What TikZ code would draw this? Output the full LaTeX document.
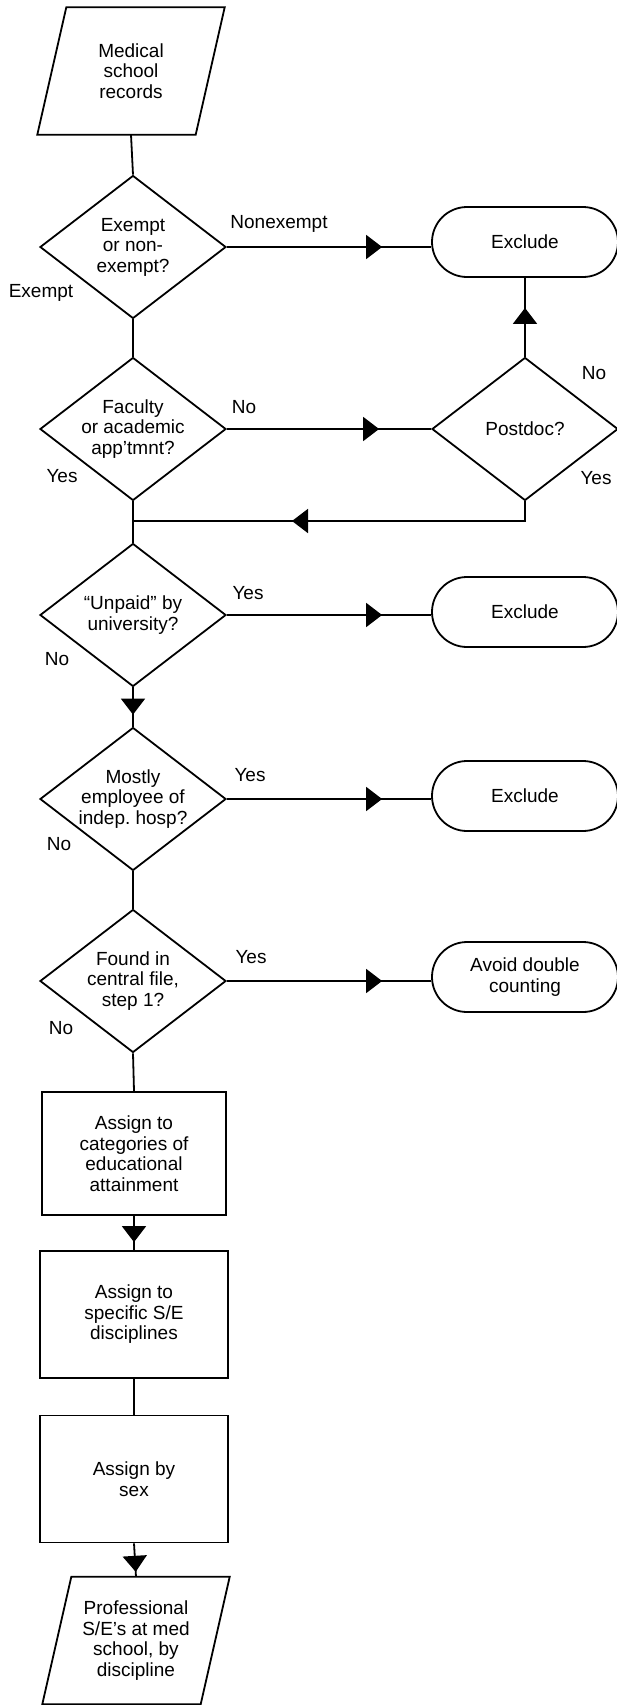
\documentclass[tikz,border=0pt]{standalone}
\usepackage{fontspec}
\setmainfont{Liberation Sans}
\usetikzlibrary{arrows.meta, shapes.geometric, decorations.markings}
\tikzset{every node/.style = {font=\fontsize{19}{20.5}\selectfont, align=center}}
\tikzset{flow/.style = {line width=1.8pt}}
\tikzset{decision/.style = {diamond, draw, flow, inner sep=0pt, shape aspect=1.3, minimum width=186pt, minimum height=143pt}}
\tikzset{process/.style = {rectangle, draw, flow, minimum width=188pt, minimum height=127pt}}
\tikzset{terminal/.style = {rectangle, draw, flow, rounded corners=35pt, minimum width=186pt, minimum height=70pt}}
\tikzset{iotext/.style = {rectangle, minimum width=158pt, minimum height=127pt}}
\tikzset{tipat/.style = {postaction={decorate}, decoration={markings, mark=at position #1 with {\arrow{Triangle[length=16pt,width=24pt]}}}}}

\begin{document}
\begin{tikzpicture}[x=1pt, y=-1pt]
\useasboundingbox (0,0) rectangle (616,1705);
\node [iotext] (src) at (131,71) {Medical\\school\\records};
\draw [flow] ([xshift=14.5pt]src.north west) -- ([xshift=14.5pt]src.north east) -- ([xshift=-14.5pt]src.south east) -- ([xshift=-14.5pt]src.south west) -- cycle;
\node [decision] (exempt) at (133,247) {Exempt\\or non-\\exempt?};
\node [decision] (faculty) at (133,429) {Faculty\\or academic\\app'tmnt?};
\node [decision] (unpaid) at (133,615) {``Unpaid'' by\\university?};
\node [decision] (hosp) at (133,799) {Mostly\\employee of\\indep.\ hosp?};
\node [decision] (central) at (133,981) {Found in\\central file,\\step 1?};
\node [process, minimum width=184pt, minimum height=123pt] (edu) at (134,1153.5) {Assign to\\categories of\\educational\\attainment};
\node [process] (disc) at (134,1314.5) {Assign to\\specific S/E\\disciplines};
\node [process] (sex) at (134,1479) {Assign by\\sex};
\node [iotext] (result) at (136,1640.5) {Professional\\S/E's at med\\school, by\\discipline};
\draw [flow] ([xshift=14.5pt]result.north west) -- ([xshift=14.5pt]result.north east) -- ([xshift=-14.5pt]result.south east) -- ([xshift=-14.5pt]result.south west) -- cycle;
\node [terminal] (excl1) at (525,242) {Exclude};
\node [decision] (postdoc) at (525,429) {Postdoc?};
\node [terminal] (excl2) at (525,612) {Exclude};
\node [terminal] (excl3) at (525,796) {Exclude};
\node [terminal] (double) at (525,977) {Avoid double\\counting};
\coordinate (merge) at (133,521);
\draw [flow] (src.south) -- (exempt.north);
\draw [flow] (exempt.south) -- (faculty.north);
\draw [flow] (faculty.south) -- (unpaid.north);
\draw [flow, tipat=-12pt] (unpaid.south) -- (hosp.north);
\draw [flow] (hosp.south) -- (central.north);
\draw [flow] (central.south) -- (edu.north);
\draw [flow, tipat=-8pt] (edu.south) -- (disc.north);
\draw [flow] (disc.south) -- (sex.north);
\draw [flow, tipat=-5pt] (sex.south) -- (result.north);
\draw [flow, tipat=-49pt] (exempt.east) -- (exempt.east -| excl1.west);
\draw [flow, tipat=-52pt] (faculty.east) -- (postdoc.west);
\draw [flow, tipat=-30pt] (postdoc.north) -- (excl1.south);
\draw [flow, tipat=-159pt] (postdoc.south) |- (merge);
\draw [flow, tipat=-49pt] (unpaid.east) -- (unpaid.east -| excl2.west);
\draw [flow, tipat=-49pt] (hosp.east) -- (hosp.east -| excl3.west);
\draw [flow, tipat=-49pt] (central.east) -- (central.east -| double.west);
\node (lnonexempt) at (279,224) {Nonexempt};
\node (lexempt) at (41,293) {Exempt};
\node (lfacultyno) at (244,407) {No};
\node (lfacultyyes) at (62,476) {Yes};
\node (lpostdocno) at (594,373) {No};
\node (lpostdocyes) at (596,478) {Yes};
\node (lunpaidyes) at (248,593) {Yes};
\node (lunpaidno) at (57,659) {No};
\node (lhospyes) at (250,775) {Yes};
\node (lhospno) at (59,844) {No};
\node (lcentralyes) at (251,957) {Yes};
\node (lcentralno) at (61,1028) {No};
\end{tikzpicture}
\end{document}
